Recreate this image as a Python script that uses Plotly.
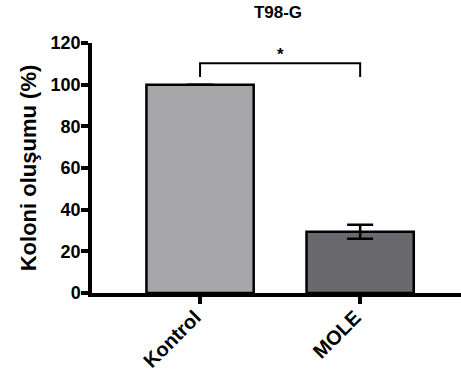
import plotly.graph_objects as go

categories = ["Kontrol", "MOLE"]
values = [100, 29.4]
errors = [None, 3.4]
bar_colors = ["#a7a7a9", "#6a6a6e"]
y_ticks = [0, 20, 40, 60, 80, 100, 120]
title_text = "T98-G"
y_label = "Koloni oluşumu (%)"
sig_label = "*"
bracket_top = 110.3
bracket_bottom = 103.7

FONT = "Arial, Liberation Sans, sans-serif"

fig = go.Figure()
fig.add_trace(go.Bar(
    x=[0, 1], y=values,
    width=0.67,
    marker=dict(color=bar_colors, line=dict(color="black", width=2.5)),
    error_y=dict(type="data", array=errors, visible=True, color="black",
                 thickness=2.5, width=13),
    showlegend=False,
))

# significance bracket
fig.add_shape(type="path",
              path=f"M 0,{bracket_bottom} L 0,{bracket_top} L 1,{bracket_top} L 1,{bracket_bottom}",
              xref="x", yref="y", line=dict(color="black", width=2))
fig.add_annotation(x=0.5, y=bracket_top, text=sig_label, showarrow=False,
                   yanchor="bottom", yshift=-3,
                   font=dict(family=FONT, size=17, color="black", weight="bold"))

fig.update_layout(
    width=461, height=373,
    margin=dict(l=92, r=0, t=43, b=80, autoexpand=False),
    plot_bgcolor="white", paper_bgcolor="white",
    title=dict(text=title_text, x=0.603, xanchor="center", y=0.968, yanchor="middle",
               font=dict(family=FONT, size=17, color="black", weight="bold"),
               automargin=False),
    xaxis=dict(range=[-0.675, 1.63], tickvals=[0, 1], ticktext=categories,
               tickangle=-45, showline=True, linecolor="black", linewidth=3.5,
               ticks="outside", ticklen=7, tickwidth=3.5, tickcolor="black",
               showgrid=False, zeroline=False, automargin=False,
               ticklabelstandoff=-6, ticklabelshift=-5,
               tickfont=dict(family=FONT, size=20, color="black", weight="bold")),
    yaxis=dict(range=[0, 120], tickvals=y_ticks, showline=True, linecolor="black",
               linewidth=3.5, ticks="outside", ticklen=7, tickwidth=3.5, tickcolor="black",
               showgrid=False, zeroline=False, automargin=False,
               ticklabelstandoff=-3,
               title=dict(text=y_label, standoff=9,
                          font=dict(family=FONT, size=22, color="black", weight="bold")),
               tickfont=dict(family=FONT, size=18, color="black", weight="bold")),
)

fig.write_html("out.html")
